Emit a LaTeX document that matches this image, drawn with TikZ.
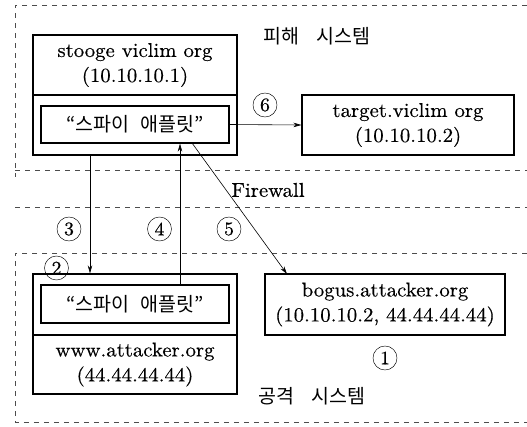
\documentclass[tikz,border=0pt]{standalone}
\usepackage{fontspec}
\setmainfont{lmroman10-regular.otf}[FakeStretch=1.04, FakeBold=0.4]
\newfontfamily\kr{Noto Sans CJK KR}
\usetikzlibrary{arrows.meta}
\tikzset{
  box/.style={draw, line width=1.2pt, inner sep=0pt, align=center},
  lbl/.style={font=\fontsize{20}{25}\selectfont, align=center},
  spy/.style={font=\kr\fontsize{19.5}{22}\selectfont},
  krlbl/.style={font=\kr\fontsize{19.5}{22}\selectfont},
  num/.style={draw, line width=0.45pt, circle, minimum size=24pt, inner sep=0pt, font=\fontsize{19}{19}\selectfont},
  arr/.style={line width=0.6pt, -{Stealth[length=8pt,width=4.5pt]}},
  zone/.style={dash pattern=on 5pt off 5pt, line width=0.5pt, black!70}
}
\begin{document}
\begin{tikzpicture}[x=1pt,y=-1pt]
\useasboundingbox (0,0) rectangle (527,426);
% zones
\draw[zone] (527,5) -- (15,5) -- (15,177);
\draw[zone] (15,170) -- (527,170);
\draw[zone] (15,207) -- (527,207);
\draw[zone] (527,253) -- (15,253) -- (15,422) -- (527,422);
% labels
\node[krlbl] (victim) at (317,36) {피해\hspace{0.9em}시스템};
\node[krlbl] (attack) at (312,396) {공격\hspace{0.9em}시스템};
\node[lbl] (fw) at (268,190) {Firewall};
% stooge
\node[box, minimum width=204pt, minimum height=120pt] (stoogeout) at (135,95) {};
\draw[line width=1.2pt] (stoogeout.west) -- (stoogeout.east);
\node[lbl] (stoogetxt) at (135,65) {stooge viclim org\\(10.10.10.1)};
\node[box, minimum width=188pt, minimum height=37pt, spy] (stoogespy) at (135,124.5) {“스파이\hspace{0.6em}애플릿”};
% target
\node[box, minimum width=212pt, minimum height=60pt, lbl] (target) at (408,125) {target.viclim org\\(10.10.10.2)};
% www
\node[box, minimum width=204pt, minimum height=120pt] (wwwout) at (135,334) {};
\draw[line width=1.2pt] ([yshift=-1pt]wwwout.west) -- ([yshift=-1pt]wwwout.east);
\node[box, minimum width=188pt, minimum height=38pt, spy] (wwwspy) at (135,304) {“스파이\hspace{0.6em}애플릿”};
\node[lbl] (wwwtxt) at (135,364.5) {www.attacker.org\\(44.44.44.44)};
% bogus
\node[box, minimum width=240pt, minimum height=61pt, lbl] (bogus) at (385,304.5) {bogus.attacker.org\\(10.10.10.2, 44.44.44.44)};
% numbers
\node[num] (n1) at (385,358) {1};
\node[num] (n2) at (56.5,268) {2};
\node[num] (n3) at (69,229) {3};
\node[num] (n4) at (159.5,229) {4};
\node[num] (n5) at (229,229) {5};
\node[num] (n6) at (265,105) {6};
% arrows
\coordinate (x3) at (90,0);
\coordinate (x4) at (180,0);
\coordinate (s5) at (192,143);
\coordinate (e5) at (287,274);
\draw[arr] (stoogeout.south -| x3) -- (wwwout.north -| x3);
\draw[arr] (wwwspy.north -| x4) -- (stoogespy.south -| x4);
\draw[arr] (s5) -- (e5);
\draw[arr] (stoogespy.east) -- (target.west);
\end{tikzpicture}
\end{document}
